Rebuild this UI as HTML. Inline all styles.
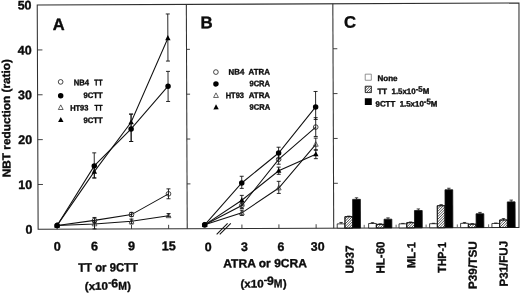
<!DOCTYPE html>
<html><head><meta charset="utf-8"><title>Figure</title>
<style>
html,body{margin:0;padding:0;background:#fff;}
body{width:520px;height:294px;overflow:hidden;}
svg{display:block;filter:grayscale(1);font-family:"Liberation Sans",sans-serif;font-weight:bold;fill:#0c0c0c;}
text{stroke:#0c0c0c;stroke-width:0.36px;stroke-linejoin:round;}
</style></head><body>
<svg width="520" height="294" viewBox="0 0 520 294">
<rect width="520" height="294" fill="#fff"/>
<g transform="rotate(-0.23 260 147)">

<g stroke="#2e2e2e" stroke-width="1.05" fill="none">
<path d="M519.55 4.1L37.8 4.1L37.8 228.45L518.65 228.45Z"/>
<line x1="186.9" y1="4.1" x2="186.9" y2="228.45"/>
<line x1="333.4" y1="4.1" x2="333.4" y2="228.45"/>
<line x1="37.8" y1="183.60" x2="42.8" y2="183.60" stroke-width="0.9"/>
<line x1="186.9" y1="183.60" x2="190.3" y2="183.60" stroke-width="0.9"/>
<line x1="333.4" y1="183.60" x2="337.7" y2="183.60" stroke-width="0.9"/>
<line x1="37.8" y1="138.75" x2="42.8" y2="138.75" stroke-width="0.9"/>
<line x1="186.9" y1="138.75" x2="190.3" y2="138.75" stroke-width="0.9"/>
<line x1="333.4" y1="138.75" x2="337.7" y2="138.75" stroke-width="0.9"/>
<line x1="37.8" y1="93.90" x2="42.8" y2="93.90" stroke-width="0.9"/>
<line x1="186.9" y1="93.90" x2="190.3" y2="93.90" stroke-width="0.9"/>
<line x1="333.4" y1="93.90" x2="337.7" y2="93.90" stroke-width="0.9"/>
<line x1="37.8" y1="49.05" x2="42.8" y2="49.05" stroke-width="0.9"/>
<line x1="186.9" y1="49.05" x2="190.3" y2="49.05" stroke-width="0.9"/>
<line x1="333.4" y1="49.05" x2="337.7" y2="49.05" stroke-width="0.9"/>
<line x1="56.8" y1="228.45" x2="56.8" y2="224.45" stroke-width="0.9"/>
<line x1="94.2" y1="228.45" x2="94.2" y2="224.45" stroke-width="0.9"/>
<line x1="131.2" y1="228.45" x2="131.2" y2="224.45" stroke-width="0.9"/>
<line x1="168.3" y1="228.45" x2="168.3" y2="224.45" stroke-width="0.9"/>
<line x1="241.6" y1="228.45" x2="241.6" y2="224.45" stroke-width="0.9"/>
<line x1="278.6" y1="228.45" x2="278.6" y2="224.45" stroke-width="0.9"/>
<line x1="315.8" y1="228.45" x2="315.8" y2="224.45" stroke-width="0.9"/>
</g>
<text x="32.1" y="232.85" font-size="12.5" text-anchor="end">0</text>
<text x="32.1" y="188.00" font-size="12.5" text-anchor="end">10</text>
<text x="32.1" y="143.15" font-size="12.5" text-anchor="end">20</text>
<text x="32.1" y="98.30" font-size="12.5" text-anchor="end">30</text>
<text x="32.1" y="53.45" font-size="12.5" text-anchor="end">40</text>
<text x="32.1" y="8.60" font-size="12.5" text-anchor="end">50</text>
<text transform="translate(10.3 176.2) rotate(-90) scale(1.0369 1)" font-size="11.4">NBT reduction (ratio)</text>
<polyline points="56.8,224.6 94.2,223.3 131.2,220.8 168.3,215.4" fill="none" stroke="#111" stroke-width="1.05"/>
<path d="M94.2 221.3V228.2M92.2 221.3h4M92.2 228.2h4" stroke="#111" stroke-width="0.9" fill="none"/>
<path d="M131.2 218.6V223.5M129.2 218.6h4M129.2 223.5h4" stroke="#111" stroke-width="0.9" fill="none"/>
<path d="M168.3 213.2V216.3M166.3 213.2h4M166.3 216.3h4" stroke="#111" stroke-width="0.9" fill="none"/>
<path d="M56.8 221.94L59.199999999999996 226.54L54.4 226.54Z" fill="none" stroke="#222" stroke-width="0.7"/>
<path d="M94.2 220.59L96.60000000000001 225.19L91.8 225.19Z" fill="none" stroke="#222" stroke-width="0.7"/>
<path d="M131.2 218.13L133.6 222.73L128.79999999999998 222.73Z" fill="none" stroke="#222" stroke-width="0.7"/>
<path d="M168.3 212.74L170.70000000000002 217.34L165.9 217.34Z" fill="none" stroke="#222" stroke-width="0.7"/>
<polyline points="56.8,224.6 94.2,219.7 131.2,214.1 168.3,193.5" fill="none" stroke="#111" stroke-width="1.05"/>
<path d="M94.2 216.8V222.2M92.2 216.8h4M92.2 222.2h4" stroke="#111" stroke-width="0.9" fill="none"/>
<path d="M131.2 211.9V215.9M129.2 211.9h4M129.2 215.9h4" stroke="#111" stroke-width="0.9" fill="none"/>
<path d="M168.3 188.5V198.4M166.3 188.5h4M166.3 198.4h4" stroke="#111" stroke-width="0.9" fill="none"/>
<circle cx="56.8" cy="224.64" r="2.35" fill="none" stroke="#1a1a1a" stroke-width="0.8"/>
<circle cx="94.2" cy="219.70" r="2.35" fill="none" stroke="#1a1a1a" stroke-width="0.8"/>
<circle cx="131.2" cy="214.10" r="2.35" fill="none" stroke="#1a1a1a" stroke-width="0.8"/>
<circle cx="168.3" cy="193.47" r="2.35" fill="none" stroke="#1a1a1a" stroke-width="0.8"/>
<polyline points="56.8,224.6 94.2,171.0 131.2,121.7 168.3,37.8" fill="none" stroke="#111" stroke-width="1.05"/>
<path d="M94.2 164.8V177.3M92.2 164.8h4M92.2 177.3h4" stroke="#111" stroke-width="0.9" fill="none"/>
<path d="M131.2 113.6V141.0M129.2 113.6h4M129.2 141.0h4" stroke="#111" stroke-width="0.9" fill="none"/>
<path d="M168.3 13.6V60.7M166.3 13.6h4M166.3 60.7h4" stroke="#111" stroke-width="0.9" fill="none"/>
<path d="M56.8 221.54L59.5 226.74L54.099999999999994 226.74Z" fill="#000"/>
<path d="M94.2 167.94L96.9 173.14L91.5 173.14Z" fill="#000"/>
<path d="M131.2 118.61L133.89999999999998 123.81L128.5 123.81Z" fill="#000"/>
<path d="M168.3 34.74L171.0 39.94L165.60000000000002 39.94Z" fill="#000"/>
<polyline points="56.8,224.6 94.2,165.2 131.2,128.4 168.3,85.8" fill="none" stroke="#111" stroke-width="1.05"/>
<path d="M94.2 152.2V177.3M92.2 152.2h4M92.2 177.3h4" stroke="#111" stroke-width="0.9" fill="none"/>
<path d="M131.2 113.6V141.0M129.2 113.6h4M129.2 141.0h4" stroke="#111" stroke-width="0.9" fill="none"/>
<path d="M168.3 71.0V101.1M166.3 71.0h4M166.3 101.1h4" stroke="#111" stroke-width="0.9" fill="none"/>
<circle cx="56.8" cy="224.64" r="2.75" fill="#000"/>
<circle cx="94.2" cy="165.21" r="2.75" fill="#000"/>
<circle cx="131.2" cy="128.43" r="2.75" fill="#000"/>
<circle cx="168.3" cy="85.83" r="2.75" fill="#000"/>
<polyline points="204.4,224.6 241.6,212.8 278.6,188.1 315.8,144.6" fill="none" stroke="#111" stroke-width="1.05"/>
<path d="M241.6 210.1V215.4M239.6 210.1h4M239.6 215.4h4" stroke="#111" stroke-width="0.9" fill="none"/>
<path d="M278.6 181.4V193.5M276.6 181.4h4M276.6 193.5h4" stroke="#111" stroke-width="0.9" fill="none"/>
<path d="M315.8 138.3V150.4M313.8 138.3h4M313.8 150.4h4" stroke="#111" stroke-width="0.9" fill="none"/>
<path d="M204.4 221.94L206.8 226.54L202.0 226.54Z" fill="none" stroke="#222" stroke-width="0.7"/>
<path d="M241.6 210.05L244.0 214.65L239.2 214.65Z" fill="none" stroke="#222" stroke-width="0.7"/>
<path d="M278.6 185.38L281.0 189.98L276.20000000000005 189.98Z" fill="none" stroke="#222" stroke-width="0.7"/>
<path d="M315.8 141.88L318.2 146.48L313.40000000000003 146.48Z" fill="none" stroke="#222" stroke-width="0.7"/>
<polyline points="204.4,224.6 241.6,200.2 278.6,170.8 315.8,154.4" fill="none" stroke="#111" stroke-width="1.05"/>
<path d="M241.6 195.3V205.1M239.6 195.3h4M239.6 205.1h4" stroke="#111" stroke-width="0.9" fill="none"/>
<path d="M278.6 167.2V174.4M276.6 167.2h4M276.6 174.4h4" stroke="#111" stroke-width="0.9" fill="none"/>
<path d="M315.8 150.0V158.9M313.8 150.0h4M313.8 158.9h4" stroke="#111" stroke-width="0.9" fill="none"/>
<path d="M204.4 221.54L207.1 226.74L201.70000000000002 226.74Z" fill="#000"/>
<path d="M241.6 197.09L244.29999999999998 202.29L238.9 202.29Z" fill="#000"/>
<path d="M278.6 167.72L281.3 172.92L275.90000000000003 172.92Z" fill="#000"/>
<path d="M315.8 151.35L318.5 156.55L313.1 156.55Z" fill="#000"/>
<polyline points="204.4,224.6 241.6,205.4 278.6,159.4 315.8,127.3" fill="none" stroke="#111" stroke-width="1.05"/>
<path d="M241.6 202.2V208.5M239.6 202.2h4M239.6 208.5h4" stroke="#111" stroke-width="0.9" fill="none"/>
<path d="M278.6 154.4V164.3M276.6 154.4h4M276.6 164.3h4" stroke="#111" stroke-width="0.9" fill="none"/>
<path d="M315.8 117.9V136.7M313.8 117.9h4M313.8 136.7h4" stroke="#111" stroke-width="0.9" fill="none"/>
<circle cx="204.4" cy="224.64" r="2.35" fill="none" stroke="#1a1a1a" stroke-width="0.8"/>
<circle cx="241.6" cy="205.35" r="2.35" fill="none" stroke="#1a1a1a" stroke-width="0.8"/>
<circle cx="278.6" cy="159.38" r="2.35" fill="none" stroke="#1a1a1a" stroke-width="0.8"/>
<circle cx="315.8" cy="127.31" r="2.35" fill="none" stroke="#1a1a1a" stroke-width="0.8"/>
<polyline points="204.4,224.6 241.6,182.9 278.6,153.1 315.8,107.1" fill="none" stroke="#111" stroke-width="1.05"/>
<path d="M241.6 176.2V188.3M239.6 176.2h4M239.6 188.3h4" stroke="#111" stroke-width="0.9" fill="none"/>
<path d="M278.6 147.3V158.9M276.6 147.3h4M276.6 158.9h4" stroke="#111" stroke-width="0.9" fill="none"/>
<path d="M315.8 91.7V119.7M313.8 91.7h4M313.8 119.7h4" stroke="#111" stroke-width="0.9" fill="none"/>
<circle cx="204.4" cy="224.64" r="2.75" fill="#000"/>
<circle cx="241.6" cy="182.93" r="2.75" fill="#000"/>
<circle cx="278.6" cy="153.10" r="2.75" fill="#000"/>
<circle cx="315.8" cy="107.13" r="2.75" fill="#000"/>
<path d="M216.3 234.3L227.3 223.2M219.4 234.3L230.5 223.2" stroke="#111" stroke-width="1.05" fill="none"/>
<text x="53.3" y="29.1" font-size="16.5">A</text>
<text x="201.0" y="28.1" font-size="16.9">B</text>
<text x="344.5" y="28.2" font-size="16.7">C</text>
<circle cx="60.9" cy="81.10" r="2.35" fill="none" stroke="#1a1a1a" stroke-width="0.8"/>
<text transform="translate(73.9 84.60000000000001) scale(0.9622 1)" font-size="8.0">NB4</text>
<text transform="translate(94.6 84.60000000000001) scale(0.8390 1)" font-size="8.0">TT</text>
<circle cx="60.9" cy="95.00" r="2.75" fill="#000"/>
<text transform="translate(83.6 97.30000000000001) scale(0.9650 1)" font-size="8.0">9CTT</text>
<path d="M60.9 104.10L63.3 108.70L58.5 108.70Z" fill="none" stroke="#222" stroke-width="0.7"/>
<text transform="translate(70.3 109.9) scale(0.9355 1)" font-size="8.0">HT93</text>
<text transform="translate(94.6 109.9) scale(0.8390 1)" font-size="8.0">TT</text>
<path d="M60.9 116.10L63.6 121.30L58.199999999999996 121.30Z" fill="#000"/>
<text transform="translate(83.6 122.4) scale(0.9650 1)" font-size="8.0">9CTT</text>
<circle cx="216.2" cy="71.90" r="2.35" fill="none" stroke="#1a1a1a" stroke-width="0.8"/>
<text transform="translate(228.9 74.5) scale(0.9809 1)" font-size="8.0">NB4</text>
<text transform="translate(248.9 74.5) scale(0.9896 1)" font-size="8.0">ATRA</text>
<circle cx="216.2" cy="83.70" r="2.75" fill="#000"/>
<text transform="translate(249.7 86.30000000000001) scale(0.9458 1)" font-size="8.0">9CRA</text>
<path d="M216.2 92.70L218.6 97.30L213.79999999999998 97.30Z" fill="none" stroke="#222" stroke-width="0.7"/>
<text transform="translate(225.9 98.0) scale(0.9355 1)" font-size="8.0">HT93</text>
<text transform="translate(248.9 98.0) scale(0.9896 1)" font-size="8.0">ATRA</text>
<path d="M216.2 104.00L218.89999999999998 109.20L213.5 109.20Z" fill="#000"/>
<text transform="translate(249.7 109.7) scale(0.9458 1)" font-size="8.0">9CRA</text>
<rect x="365.5" y="74.6" width="6.1" height="6.1" fill="#fff" stroke="#666" stroke-width="0.7"/>
<rect x="365.5" y="86.7" width="6.1" height="6.3" fill="#fff" stroke="#333" stroke-width="0.6"/>
<rect x="365" y="98.6" width="7" height="6.8" fill="#000"/>
<text x="377.7" y="81.6" font-size="8.05">None</text>
<text x="377.7" y="94.5" font-size="7.9">TT&#160;&#160;1.5x10<tspan dy="-2.2" font-size="7.9">-5</tspan><tspan dy="2.2">M</tspan></text>
<text x="375.7" y="107.1" font-size="7.9">9CTT&#160;&#160;1.5x10<tspan dy="-2.2" font-size="7.9">-5</tspan><tspan dy="2.2">M</tspan></text>
<text x="56.8" y="249.8" font-size="12.7" text-anchor="middle">0</text>
<text x="94.2" y="249.8" font-size="12.7" text-anchor="middle">6</text>
<text x="131.2" y="249.8" font-size="12.7" text-anchor="middle">9</text>
<text x="168.3" y="249.8" font-size="12.7" text-anchor="middle">15</text>
<text transform="translate(77.7 270.9) scale(0.9443 1)" font-size="12.0">TT or 9CTT</text>
<text transform="translate(84.2 289.2) scale(1.0537 1)" font-size="11.0">(x10</text>
<rect x="107.8" y="281.6" width="2.9" height="1.5" fill="#0c0c0c"/>
<text x="110.80000000000001" y="286.8" font-size="12.3">6</text>
<text transform="translate(117.60000000000001 289.2) scale(0.9160 1)" font-size="11.4">M</text>
<text x="126.7" y="289.2" font-size="11.0">)</text>
<text x="207.8" y="251.0" font-size="12.4" text-anchor="middle">0</text>
<text x="244.0" y="251.0" font-size="12.4" text-anchor="middle">3</text>
<text x="280.5" y="251.0" font-size="12.4" text-anchor="middle">6</text>
<text x="317.3" y="251.0" font-size="12.4" text-anchor="middle">30</text>
<text transform="translate(222.8 267.3) scale(1.0129 1)" font-size="11.9">ATRA or 9CRA</text>
<text transform="translate(239.9 287.4) scale(1.0537 1)" font-size="11.0">(x10</text>
<rect x="263.5" y="279.8" width="2.9" height="1.5" fill="#0c0c0c"/>
<text x="266.5" y="285.0" font-size="12.3">9</text>
<text transform="translate(273.3 287.4) scale(0.9160 1)" font-size="11.4">M</text>
<text x="282.4" y="287.4" font-size="11.0">)</text>

<rect x="336.90" y="224.19" width="7.75" height="4.26" fill="#fff" stroke="#111" stroke-width="0.8"/>
<path d="M340.8 224.2V222.8M339.1 222.8h3.4" stroke="#111" stroke-width="0.8" fill="none"/>
<rect x="344.65" y="217.01" width="7.75" height="11.44" fill="#fff" stroke="#111" stroke-width="0.8"/>
<path d="M348.5 217.0V216.5M346.8 216.5h3.4" stroke="#111" stroke-width="0.8" fill="none"/>
<rect x="352.40" y="199.75" width="7.75" height="28.70" fill="#000" stroke="#111" stroke-width="0.8"/>
<path d="M356.3 199.7V198.2M354.6 198.2h3.4" stroke="#111" stroke-width="0.8" fill="none"/>
<text transform="translate(353.3 274.0) rotate(-90) scale(1.0082 1)" font-size="11.7">U937</text>
<rect x="368.30" y="223.96" width="7.75" height="4.49" fill="#fff" stroke="#111" stroke-width="0.8"/>
<path d="M372.2 224.0V223.1M370.5 223.1h3.4" stroke="#111" stroke-width="0.8" fill="none"/>
<rect x="376.05" y="224.86" width="7.75" height="3.59" fill="#fff" stroke="#111" stroke-width="0.8"/>
<path d="M379.9 224.9V224.3M378.2 224.3h3.4" stroke="#111" stroke-width="0.8" fill="none"/>
<rect x="383.80" y="219.70" width="7.75" height="8.75" fill="#000" stroke="#111" stroke-width="0.8"/>
<path d="M387.7 219.7V218.4M386.0 218.4h3.4" stroke="#111" stroke-width="0.8" fill="none"/>
<text transform="translate(384.1 274.0) rotate(-90) scale(0.9844 1)" font-size="11.7">HL-60</text>
<rect x="398.70" y="224.41" width="7.75" height="4.04" fill="#fff" stroke="#111" stroke-width="0.8"/>
<path d="M402.6 224.4V224.0M400.9 224.0h3.4" stroke="#111" stroke-width="0.8" fill="none"/>
<rect x="406.45" y="223.29" width="7.75" height="5.16" fill="#fff" stroke="#111" stroke-width="0.8"/>
<path d="M410.3 223.3V222.6M408.6 222.6h3.4" stroke="#111" stroke-width="0.8" fill="none"/>
<rect x="414.20" y="211.18" width="7.75" height="17.27" fill="#000" stroke="#111" stroke-width="0.8"/>
<path d="M418.1 211.2V209.6M416.4 209.6h3.4" stroke="#111" stroke-width="0.8" fill="none"/>
<text transform="translate(414.8 268.5) rotate(-90) scale(0.9451 1)" font-size="11.7">ML-1</text>
<rect x="429.30" y="224.41" width="7.75" height="4.04" fill="#fff" stroke="#111" stroke-width="0.8"/>
<path d="M433.2 224.4V224.0M431.5 224.0h3.4" stroke="#111" stroke-width="0.8" fill="none"/>
<rect x="437.05" y="206.47" width="7.75" height="21.98" fill="#fff" stroke="#111" stroke-width="0.8"/>
<path d="M440.9 206.5V205.4M439.2 205.4h3.4" stroke="#111" stroke-width="0.8" fill="none"/>
<rect x="444.80" y="190.55" width="7.75" height="37.90" fill="#000" stroke="#111" stroke-width="0.8"/>
<path d="M448.7 190.6V189.0M447.0 189.0h3.4" stroke="#111" stroke-width="0.8" fill="none"/>
<text transform="translate(445.6 273.6) rotate(-90) scale(0.9111 1)" font-size="11.7">THP-1</text>
<rect x="460.30" y="224.19" width="7.75" height="4.26" fill="#fff" stroke="#111" stroke-width="0.8"/>
<path d="M464.2 224.2V223.3M462.5 223.3h3.4" stroke="#111" stroke-width="0.8" fill="none"/>
<rect x="468.05" y="225.04" width="7.75" height="3.41" fill="#fff" stroke="#111" stroke-width="0.8"/>
<path d="M471.9 225.0V224.5M470.2 224.5h3.4" stroke="#111" stroke-width="0.8" fill="none"/>
<rect x="475.80" y="214.64" width="7.75" height="13.81" fill="#000" stroke="#111" stroke-width="0.8"/>
<path d="M479.7 214.6V213.3M478.0 213.3h3.4" stroke="#111" stroke-width="0.8" fill="none"/>
<text transform="translate(476.3 289.9) rotate(-90) scale(1.0070 1)" font-size="11.7">P39/TSU</text>
<rect x="491.60" y="224.41" width="7.75" height="4.04" fill="#fff" stroke="#111" stroke-width="0.8"/>
<path d="M495.5 224.4V224.0M493.8 224.0h3.4" stroke="#111" stroke-width="0.8" fill="none"/>
<rect x="499.35" y="220.96" width="7.75" height="7.49" fill="#fff" stroke="#111" stroke-width="0.8"/>
<path d="M503.2 221.0V219.6M501.5 219.6h3.4" stroke="#111" stroke-width="0.8" fill="none"/>
<rect x="507.10" y="202.89" width="7.75" height="25.56" fill="#000" stroke="#111" stroke-width="0.8"/>
<path d="M511.0 202.9V201.1M509.3 201.1h3.4" stroke="#111" stroke-width="0.8" fill="none"/>
<text transform="translate(507.1 287.4) rotate(-90) scale(0.9876 1)" font-size="11.7">P31/FUJ</text>
<clipPath id="hc0"><rect x="365.50" y="86.70" width="6.1" height="6.30"/></clipPath>
<path d="M356.20 93.00l6.30 -6.30M358.80 93.00l6.30 -6.30M361.40 93.00l6.30 -6.30M364.00 93.00l6.30 -6.30M366.60 93.00l6.30 -6.30M369.20 93.00l6.30 -6.30M371.80 93.00l6.30 -6.30" stroke="#111" stroke-width="0.75" fill="none" clip-path="url(#hc0)"/>
<rect x="365.50" y="86.70" width="6.1" height="6.30" fill="none" stroke="#111" stroke-width="0.6"/>
<clipPath id="hc1"><rect x="344.65" y="217.01" width="7.75" height="11.44"/></clipPath>
<path d="M330.20 228.45l11.44 -11.44M332.80 228.45l11.44 -11.44M335.40 228.45l11.44 -11.44M338.00 228.45l11.44 -11.44M340.60 228.45l11.44 -11.44M343.20 228.45l11.44 -11.44M345.80 228.45l11.44 -11.44M348.40 228.45l11.44 -11.44M351.00 228.45l11.44 -11.44" stroke="#111" stroke-width="0.75" fill="none" clip-path="url(#hc1)"/>
<rect x="344.65" y="217.01" width="7.75" height="11.44" fill="none" stroke="#111" stroke-width="0.8"/>
<clipPath id="hc2"><rect x="376.05" y="224.86" width="7.75" height="3.59"/></clipPath>
<path d="M369.20 228.45l3.59 -3.59M371.80 228.45l3.59 -3.59M374.40 228.45l3.59 -3.59M377.00 228.45l3.59 -3.59M379.60 228.45l3.59 -3.59M382.20 228.45l3.59 -3.59" stroke="#111" stroke-width="0.75" fill="none" clip-path="url(#hc2)"/>
<rect x="376.05" y="224.86" width="7.75" height="3.59" fill="none" stroke="#111" stroke-width="0.8"/>
<clipPath id="hc3"><rect x="406.45" y="223.29" width="7.75" height="5.16"/></clipPath>
<path d="M397.80 228.45l5.16 -5.16M400.40 228.45l5.16 -5.16M403.00 228.45l5.16 -5.16M405.60 228.45l5.16 -5.16M408.20 228.45l5.16 -5.16M410.80 228.45l5.16 -5.16M413.40 228.45l5.16 -5.16" stroke="#111" stroke-width="0.75" fill="none" clip-path="url(#hc3)"/>
<rect x="406.45" y="223.29" width="7.75" height="5.16" fill="none" stroke="#111" stroke-width="0.8"/>
<clipPath id="hc4"><rect x="437.05" y="206.47" width="7.75" height="21.98"/></clipPath>
<path d="M413.40 228.45l21.98 -21.98M416.00 228.45l21.98 -21.98M418.60 228.45l21.98 -21.98M421.20 228.45l21.98 -21.98M423.80 228.45l21.98 -21.98M426.40 228.45l21.98 -21.98M429.00 228.45l21.98 -21.98M431.60 228.45l21.98 -21.98M434.20 228.45l21.98 -21.98M436.80 228.45l21.98 -21.98M439.40 228.45l21.98 -21.98M442.00 228.45l21.98 -21.98M444.60 228.45l21.98 -21.98" stroke="#111" stroke-width="0.75" fill="none" clip-path="url(#hc4)"/>
<rect x="437.05" y="206.47" width="7.75" height="21.98" fill="none" stroke="#111" stroke-width="0.8"/>
<clipPath id="hc5"><rect x="468.05" y="225.04" width="7.75" height="3.41"/></clipPath>
<path d="M462.80 228.45l3.41 -3.41M465.40 228.45l3.41 -3.41M468.00 228.45l3.41 -3.41M470.60 228.45l3.41 -3.41M473.20 228.45l3.41 -3.41M475.80 228.45l3.41 -3.41" stroke="#111" stroke-width="0.75" fill="none" clip-path="url(#hc5)"/>
<rect x="468.05" y="225.04" width="7.75" height="3.41" fill="none" stroke="#111" stroke-width="0.8"/>
<clipPath id="hc6"><rect x="499.35" y="220.96" width="7.75" height="7.49"/></clipPath>
<path d="M488.80 228.45l7.49 -7.49M491.40 228.45l7.49 -7.49M494.00 228.45l7.49 -7.49M496.60 228.45l7.49 -7.49M499.20 228.45l7.49 -7.49M501.80 228.45l7.49 -7.49M504.40 228.45l7.49 -7.49M507.00 228.45l7.49 -7.49" stroke="#111" stroke-width="0.75" fill="none" clip-path="url(#hc6)"/>
<rect x="499.35" y="220.96" width="7.75" height="7.49" fill="none" stroke="#111" stroke-width="0.8"/>
<line x1="363.9" y1="228.45" x2="363.9" y2="225.25" stroke="#555" stroke-width="0.9"/>
<line x1="395.8" y1="228.45" x2="395.8" y2="225.25" stroke="#555" stroke-width="0.9"/>
<line x1="425.8" y1="228.45" x2="425.8" y2="225.25" stroke="#555" stroke-width="0.9"/>
<line x1="457.0" y1="228.45" x2="457.0" y2="225.25" stroke="#555" stroke-width="0.9"/>
<line x1="488.3" y1="228.45" x2="488.3" y2="225.25" stroke="#555" stroke-width="0.9"/>
</g></svg></body></html>
